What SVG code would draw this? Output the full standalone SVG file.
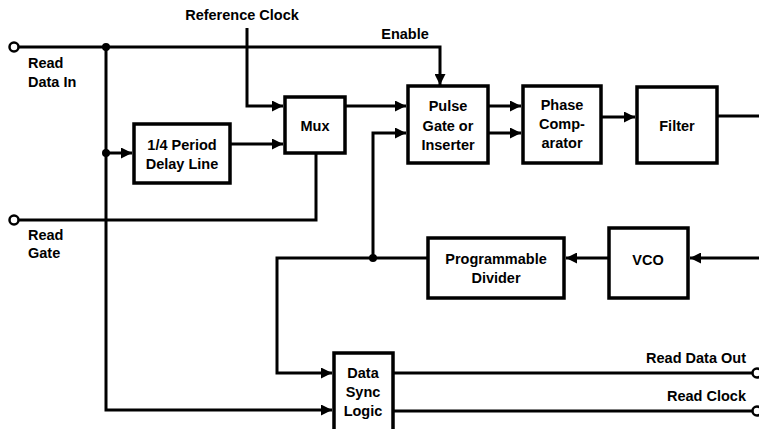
<svg xmlns="http://www.w3.org/2000/svg" width="759" height="429" viewBox="0 0 759 429">
<defs>
<style>
.box{fill:#fff;stroke:#000;stroke-width:3.5}
.w{fill:none;stroke:#000;stroke-width:3;stroke-linejoin:miter}
.t{font-family:"Liberation Sans",Arial,sans-serif;font-weight:bold;font-size:14.5px;fill:#000}
.c{text-anchor:middle}
.r{text-anchor:end}
.dot{fill:#000}
.term{fill:#fff;stroke:#000;stroke-width:2.5}
</style>
<marker id="a" markerWidth="11" markerHeight="11" refX="11" refY="5.5" orient="auto" markerUnits="userSpaceOnUse">
<path d="M0,0 L11,5.5 L0,11 Z" fill="#000"/>
</marker>
</defs>
<rect width="759" height="429" fill="#fff"/>
<g id="connectors">
<path class="w" d="M14,47 H440 V85" marker-end="url(#a)"/>
<path class="w" d="M106,47 V410 H332" marker-end="url(#a)"/>
<path class="w" d="M106,153 H132" marker-end="url(#a)"/>
<path class="w" d="M247,28 V106 H283" marker-end="url(#a)"/>
<path class="w" d="M230,144 H283" marker-end="url(#a)"/>
<path class="w" d="M345,106 H406" marker-end="url(#a)"/>
<path class="w" d="M14,220 H316 V153"/>
<path class="w" d="M373,258 V133 H406" marker-end="url(#a)"/>
<path class="w" d="M488,106 H521" marker-end="url(#a)"/>
<path class="w" d="M488,133 H521" marker-end="url(#a)"/>
<path class="w" d="M601,117 H635" marker-end="url(#a)"/>
<path class="w" d="M717,116 H759"/>
<path class="w" d="M759,258 H690" marker-end="url(#a)"/>
<path class="w" d="M609,258 H566" marker-end="url(#a)"/>
<path class="w" d="M428,258 H277 V373 H332" marker-end="url(#a)"/>
<path class="w" d="M393,373 H753"/>
<path class="w" d="M393,411 H753"/>
<circle class="dot" cx="106" cy="47" r="4"/>
<circle class="dot" cx="106" cy="153" r="4"/>
<circle class="dot" cx="373" cy="258" r="4"/>
<circle class="term" cx="14" cy="47" r="4.5"/>
<circle class="term" cx="14" cy="220" r="4.5"/>
<circle class="term" cx="757" cy="373" r="4.5"/>
<circle class="term" cx="757" cy="411" r="4.5"/>
</g>
<g id="labels">
<text class="t c" x="242" y="20">Reference Clock</text>
<text class="t c" x="405" y="39">Enable</text>
<text class="t" x="28" y="68">Read</text>
<text class="t" x="28" y="87">Data In</text>
<text class="t" x="28" y="240">Read</text>
<text class="t" x="28" y="258">Gate</text>
<text class="t r" x="746" y="363">Read Data Out</text>
<text class="t r" x="746" y="401">Read Clock</text>
</g>
<g id="delay">
<rect class="box" x="134" y="124" width="96" height="59"/>
<text class="t c" x="182" y="150">1/4 Period</text>
<text class="t c" x="182" y="169">Delay Line</text>
</g>
<g id="mux">
<rect class="box" x="285" y="97" width="60" height="56"/>
<text class="t c" x="315" y="131">Mux</text>
</g>
<g id="pulse">
<rect class="box" x="408" y="86" width="80" height="77"/>
<text class="t c" x="448" y="111">Pulse</text>
<text class="t c" x="448" y="131">Gate or</text>
<text class="t c" x="448" y="150">Inserter</text>
</g>
<g id="phase">
<rect class="box" x="523" y="86" width="78" height="77"/>
<text class="t c" x="562" y="110">Phase</text>
<text class="t c" x="562" y="129">Comp-</text>
<text class="t c" x="562" y="148">arator</text>
</g>
<g id="filter">
<rect class="box" x="637" y="87" width="80" height="76"/>
<text class="t c" x="677" y="131">Filter</text>
</g>
<g id="divider">
<rect class="box" x="428" y="238" width="136" height="60"/>
<text class="t c" x="496" y="264">Programmable</text>
<text class="t c" x="496" y="283">Divider</text>
</g>
<g id="vco">
<rect class="box" x="609" y="228" width="79" height="70"/>
<text class="t c" x="648" y="265">VCO</text>
</g>
<g id="sync">
<rect class="box" x="334" y="353" width="59" height="80"/>
<text class="t c" x="363" y="378">Data</text>
<text class="t c" x="363" y="397">Sync</text>
<text class="t c" x="363" y="416">Logic</text>
</g>
</svg>
